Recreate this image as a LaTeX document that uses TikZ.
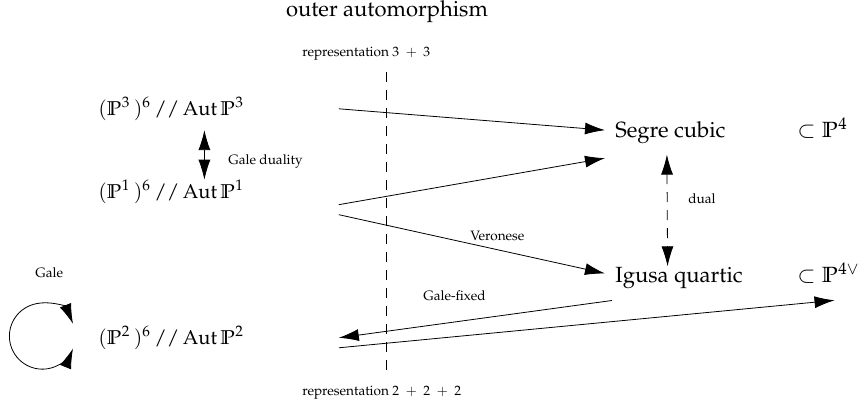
\documentclass[tikz,border=0pt]{standalone}
\usepackage[T1]{fontenc}
\usepackage{mathpazo}
\usepackage{amsmath}
\usepackage{amssymb}
\usetikzlibrary{positioning,arrows.meta}
\tikzset{
  main/.style  = {font=\fontsize{11}{13}\selectfont, inner sep=0pt},
  lab/.style   = {font=\fontsize{6.8}{8.5}\selectfont, inner sep=0pt,
                  anchor=base west},
  quot/.style  = {main, font=\fontsize{10}{12}\selectfont, text width=120pt,
                  align=left, anchor=base west},
  var/.style   = {main, inner xsep=5pt, anchor=base west},
  amb/.style   = {main, anchor=base west},
  map/.style   = {->, thin},
  swap/.style  = {<->, thin},
  cut/.style   = {thin, dash pattern=on 5pt off 4pt}
}
\newcommand{\quotP}[1]{$(\mathbb{P}^{#1}\,)^6\,//\operatorname{Aut}\mathbb{P}^{#1}$}

\begin{document}
\begin{tikzpicture}[x=0.5pt, y=-0.5pt, >={Latex[length=10pt,width=6pt]}]
\useasboundingbox (0,0) rectangle (862,402);

% heading and the two representations on the cut
\node[main, anchor=base] (outer) at (387,16) {outer automorphism};
\node[lab] (rep33) at (302,56) {representation $3 \;+\; 3$};
\node[lab] (rep222) at (302,395) {representation $2 \;+\; 2 \;+\; 2$};
\coordinate (cuttop) at (386,72);
\coordinate (cutbot) at (386,373);
\draw[cut] (cuttop) -- (cutbot);

% the quotients, left column
\node[quot] (p3) at (98,115) {\quotP{3}};
\node[quot] (p1) at (98,198) {\quotP{1}};
\node[quot] (p2) at (98,344) {\quotP{2}};
\node[lab] (galedual) at (228,164) {Gale duality};
\node[lab] (gale) at (35,277) {Gale};

% the two threefolds, right column
\node[var] (segre) at (605,137) {Segre cubic};
\node[var] (igusa) at (605,282) {Igusa quartic};
\node[amb] (p4) at (797,137) {$\subset\mathbb{P}^4$};
\node[amb] (p4v) at (797,282) {$\subset\mathbb{P}^{4\vee}$};
\node[lab] (dual) at (688,203) {dual};
\node[lab] (veronese) at (470,240) {Veronese};
\node[lab] (galefix) at (423,300) {Gale-fixed};

% maps between them
\draw[swap] ([xshift=-7pt,yshift=-4.75pt]p3.south) -- ([xshift=-7pt]p1.north);
\draw[swap] ([xshift=-12.5pt,yshift=7pt]p2.west)
  arc[start angle=22, end angle=338, radius=16.5pt];
\draw[map] (p3.east) -- ([yshift=1pt]segre.west);
\draw[map] ([yshift=-6.5pt]p1.east) -- ([yshift=-13pt]segre.west);
\draw[map] ([yshift=-11.5pt]p1.east) -- ([yshift=2pt]igusa.west);
\draw[map] ([xshift=3.5pt,yshift=-11.5pt]igusa.west) -- (p2.east);
\draw[map] ([yshift=-5pt]p2.east) -- ([xshift=3pt,yshift=-8.5pt]p4v.south);
\draw[swap, cut] ([xshift=-1.75pt,yshift=-5.5pt]segre.south)
  -- ([xshift=-5.75pt]igusa.north);

\end{tikzpicture}
\end{document}
